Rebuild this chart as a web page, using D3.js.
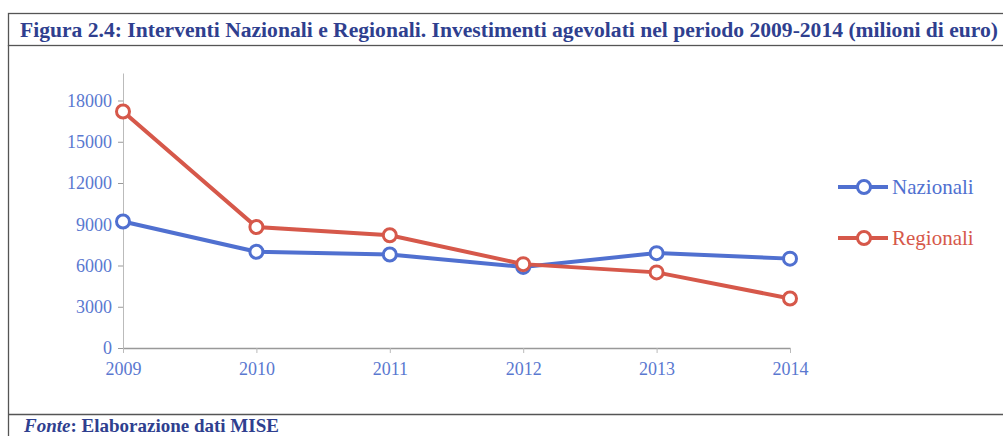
<!DOCTYPE html>
<html>
<head>
<meta charset="utf-8">
<script src="https://cdn.jsdelivr.net/npm/d3@7"></script>
<style>
  body { margin: 0; background: #fff; }
  svg { display: block; }
</style>
</head>
<body>
<div id="chart"></div>
<script>
// Data
const years = ['2009', '2010', '2011', '2012', '2013', '2014']
const nazionali = [9200, 7000, 6800, 5900, 6900, 6500]
const regionali = [17200, 8800, 8200, 6100, 5500, 3600]
const yTicks = [0, 3000, 6000, 9000, 12000, 15000, 18000]
const seriesNames = ['Nazionali', 'Regionali']
const colors = ['#5070d0', '#d6584a']

const W = 1003, H = 436

const svg = d3.select('#chart')
    .append('svg')
    .attr('width', W)
    .attr('height', H)

// Frame
const frame = svg.append('g').attr('fill', 'none').attr('stroke', '#555').attr('stroke-width', 1.3)
frame.append('rect').attr('x', 8.5).attr('y', 13.5).attr('width', 1010).attr('height', 32)
frame.append('line').attr('x1', 8.5).attr('x2', 8.5).attr('y1', 45).attr('y2', H)
frame.append('line').attr('x1', 8.5).attr('x2', W).attr('y1', 414.5).attr('y2', 414.5)

svg.append('text')
    .attr('x', 20)
    .attr('y', 37)
    .attr('textLength', 978)
    .attr('lengthAdjust', 'spacingAndGlyphs')
    .style('font-family', '"Liberation Serif", "DejaVu Serif", serif')
    .style('font-weight', 'bold')
    .style('font-size', '20px')
    .style('fill', '#2f3f8f')
    .text('Figura 2.4: Interventi Nazionali e Regionali. Investimenti agevolati nel periodo 2009-2014 (milioni di euro)')

const foot = svg.append('text')
    .attr('x', 24)
    .attr('y', 432)
    .style('font-family', '"Liberation Serif", serif')
    .style('font-weight', 'bold')
    .style('font-size', '19px')
    .style('fill', '#2f3f8f')
foot.append('tspan').style('font-style', 'italic').text('Fonte')
foot.append('tspan').text(': Elaborazione dati MISE')

// Scales
const x = d3.scalePoint().domain(years).range([123, 790])
const y = d3.scaleLinear().domain([0, 20000]).range([348, 73])

const tickFont = g => g.selectAll('text')
    .style('font-family', '"Liberation Serif", serif')
    .style('font-size', '18px')
    .style('fill', '#5a78d0')

// Y axis
const yAxis = svg.append('g')
    .attr('transform', 'translate(123,0)')
    .call(d3.axisLeft(y).tickValues(yTicks).tickFormat(d3.format('d')).tickSize(5).tickPadding(6).tickSizeOuter(0))
yAxis.select('.domain').attr('stroke', '#bbb')
yAxis.selectAll('.tick line').attr('stroke', '#999')
yAxis.call(tickFont)

// X axis
const xAxis = svg.append('g')
    .attr('transform', 'translate(0,348)')
    .call(d3.axisBottom(x).tickSize(5).tickPadding(9).tickSizeOuter(0))
xAxis.select('.domain').attr('stroke', '#999').attr('stroke-width', 1.5)
xAxis.selectAll('.tick line').attr('stroke', '#bbb')
xAxis.call(tickFont)

// Lines
const line = d3.line().x((d, i) => x(years[i])).y(d => y(d))
const series = [nazionali, regionali]

series.forEach((vals, s) => {
    svg.append('path')
        .datum(vals)
        .attr('d', line)
        .attr('fill', 'none')
        .attr('stroke', colors[s])
        .attr('stroke-width', 4)
    svg.append('g').selectAll('circle')
        .data(vals)
        .enter()
        .append('circle')
        .attr('cx', (d, i) => x(years[i]))
        .attr('cy', d => y(d))
        .attr('r', 6.5)
        .attr('fill', '#fff')
        .attr('stroke', colors[s])
        .attr('stroke-width', 3)
})

// Legend
const legend = svg.append('g')
seriesNames.forEach((name, s) => {
    const ly = 187 + s * 51
    legend.append('line')
        .attr('x1', 838).attr('x2', 888)
        .attr('y1', ly).attr('y2', ly)
        .attr('stroke', colors[s]).attr('stroke-width', 4)
    legend.append('circle')
        .attr('cx', 864).attr('cy', ly).attr('r', 6.5)
        .attr('fill', '#fff').attr('stroke', colors[s]).attr('stroke-width', 3)
    legend.append('text')
        .attr('x', 892).attr('y', ly + 7)
        .style('font-family', '"Liberation Serif", serif')
        .style('font-size', '21px')
        .style('fill', colors[s])
        .text(name)
})
</script>
</body>
</html>
